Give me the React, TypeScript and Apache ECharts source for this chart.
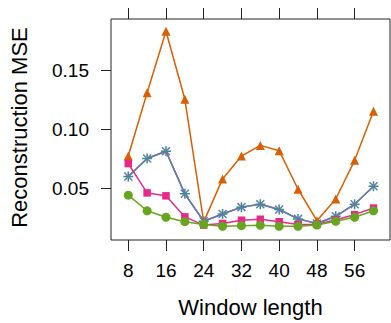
import React, { useEffect, useRef } from "react";
import * as echarts from "echarts";

const windowLengths = [8, 12, 16, 20, 24, 28, 32, 36, 40, 44, 48, 52, 56, 60];
const tealMSE = [0.06, 0.0754, 0.0815, 0.0453, 0.022, 0.0282, 0.034, 0.0365, 0.032, 0.024, 0.0201, 0.0262, 0.0365, 0.0517];
const orangeMSE = [0.0774, 0.1313, 0.1835, 0.1257, 0.0215, 0.058, 0.0774, 0.0865, 0.082, 0.0492, 0.0225, 0.0409, 0.0738, 0.1155];
const purpleMSE = [0.06, 0.0754, 0.0815, 0.0453, 0.022, 0.0282, 0.034, 0.0365, 0.032, 0.024, 0.0201, 0.0262, 0.0365, 0.0517];
const pinkMSE = [0.071, 0.0461, 0.0436, 0.0257, 0.0187, 0.0201, 0.0229, 0.0237, 0.0216, 0.0193, 0.0193, 0.0232, 0.0276, 0.0332];
const greenMSE = [0.0442, 0.0309, 0.0254, 0.0216, 0.0193, 0.0177, 0.0182, 0.0185, 0.0177, 0.0177, 0.0188, 0.022, 0.0254, 0.0309];

const xTicks = [8, 16, 24, 32, 40, 48, 56];
const yTicks = [0.05, 0.1, 0.15];

const FONT = "Liberation Sans";

function pairs(vals: number[]) {
  return windowLengths.map((x, i) => [x, vals[i]]);
}

export default function App() {
  const ref = useRef<HTMLDivElement>(null);
  useEffect(() => {
    if (!ref.current) return;
    const chart = echarts.init(ref.current, null, { renderer: "svg" });
    const tickStyle = { color: "#222", width: 1 };
    const lineSeries = (name: string, vals: number[], color: string, symbol: string, size: number) => ({
      name,
      type: "line",
      data: pairs(vals),
      symbol,
      symbolSize: size,
      showAllSymbol: true,
      lineStyle: { color, width: 1.5 },
      itemStyle: { color },
      emphasis: { disabled: true },
      z: 2,
    });
    chart.setOption({
      animation: false,
      grid: {
        left: 104,
        top: 19,
        right: 1,
        bottom: 77,
        show: true,
        borderColor: "#222",
        borderWidth: 1,
        backgroundColor: "transparent",
      },
      xAxis: [
        {
          type: "value",
          position: "bottom",
          min: 4.34,
          max: 63.5,
          axisLine: { show: false },
          splitLine: { show: false },
          axisTick: { show: true, length: 11, lineStyle: tickStyle, customValues: xTicks },
          axisLabel: { customValues: xTicks, margin: 21, fontSize: 19, color: "#000", fontFamily: FONT },
          name: "Window length",
          nameLocation: "middle",
          nameGap: 56,
          nameTextStyle: { fontSize: 22, color: "#000", fontFamily: FONT },
        },
        {
          type: "value",
          position: "top",
          min: 4.34,
          max: 63.5,
          axisLine: { show: false },
          splitLine: { show: false },
          axisTick: { show: true, length: 11, lineStyle: tickStyle, customValues: xTicks },
          axisLabel: { show: false },
        },
      ],
      yAxis: {
        type: "value",
        min: 0.00605,
        max: 0.19395,
        axisLine: { show: false },
        splitLine: { show: false },
        axisTick: { show: true, length: 10, lineStyle: tickStyle, customValues: yTicks },
        axisLabel: {
          customValues: yTicks,
          margin: 22,
          fontSize: 19,
          color: "#000",
          fontFamily: FONT,
          formatter: (v: number) => v.toFixed(2),
        },
        name: "Reconstruction MSE",
        nameLocation: "middle",
        nameGap: 81,
        nameTextStyle: { fontSize: 22, color: "#000", fontFamily: FONT, padding: [0, 0, 0, 4] },
      },
      series: [
        {
          ...lineSeries("teal", tealMSE, "#1B9E77", "path://M5,0L5,10M0,5L10,5", 10),
          itemStyle: { color: "none", borderColor: "#1B9E77", borderWidth: 1.5 },
        },
        lineSeries("orange", orangeMSE, "#D95F02", "triangle", 9),
        {
          ...lineSeries("purple", purpleMSE, "#7570B3", "path://M0,0L10,10M10,0L0,10", 8),
          itemStyle: { color: "none", borderColor: "#7570B3", borderWidth: 1.5 },
        },
        lineSeries("pink", pinkMSE, "#E7298A", "rect", 7.5),
        lineSeries("green", greenMSE, "#66A61E", "circle", 9),
      ],
    });
    return () => chart.dispose();
  }, []);
  return (
    <div
      ref={ref}
      style={{ position: "fixed", left: 0, top: 0, width: 391, height: 323, background: "#fff" }}
    />
  );
}
